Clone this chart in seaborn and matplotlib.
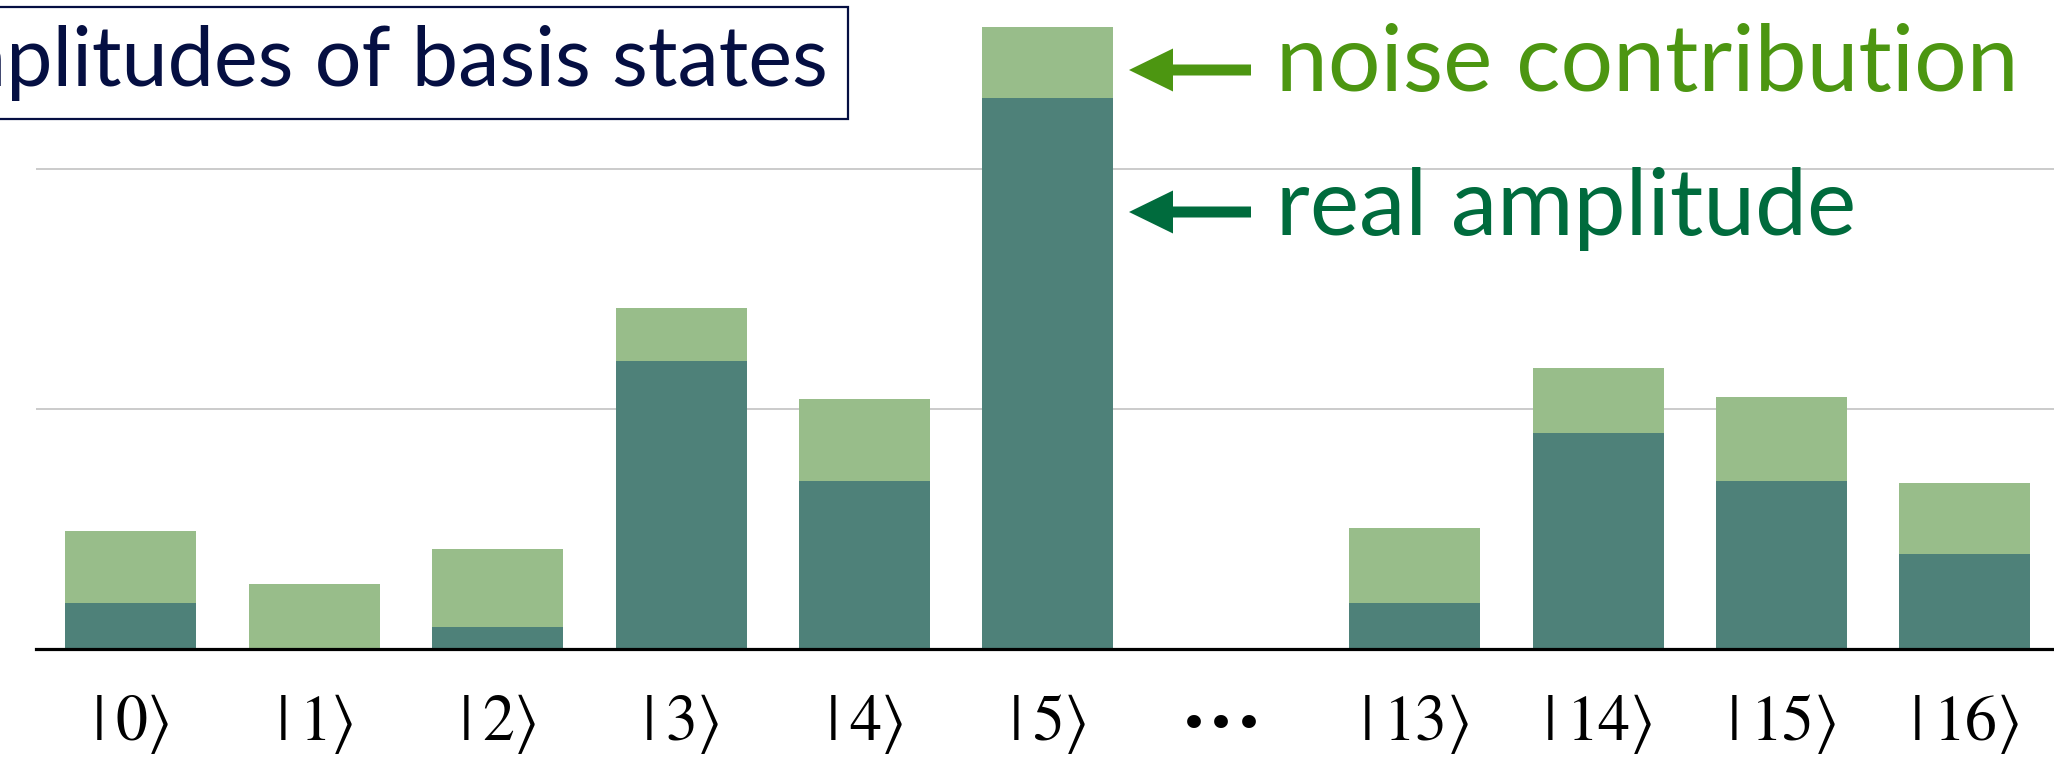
import numpy as np
import pandas as pd
import seaborn as sns
import matplotlib
matplotlib.use("Agg")
import matplotlib.pyplot as plt
from matplotlib.patches import Rectangle, FancyArrow
from matplotlib.transforms import IdentityTransform
from matplotlib.textpath import TextPath
from matplotlib.font_manager import FontProperties

# ---------------- data ----------------
ELLIPSIS = "•••"
states = [r"$|\:0\rangle$", r"$|\:1\rangle$", r"$|\:2\rangle$", r"$|\:3\rangle$",
          r"$|\:4\rangle$", r"$|\:5\rangle$", ELLIPSIS, r"$|\:13\rangle$",
          r"$|\:14\rangle$", r"$|\:15\rangle$", r"$|\:16\rangle$"]
bar_states = [s for s in states if s != ELLIPSIS]
real_amp = [0.19, 0.00, 0.093, 1.20, 0.70, 2.296, 0.19, 0.90, 0.70, 0.395]
noise_amp = [0.30, 0.27, 0.323, 0.22, 0.34, 0.296, 0.314, 0.27, 0.35, 0.295]

title_text = "Amplitudes of basis states"
noise_label = "noise contribution"
real_label = "real amplitude"

DARK = "#4e8179"
LIGHT = "#98bd8a"
NAVY = "#050f42"
NOISE_C = "#4c9611"
REAL_C = "#006b3d"

df = pd.DataFrame({"state": bar_states, "real": real_amp, "noise": noise_amp})
df["total"] = df["real"] + df["noise"]

# ---------------- figure ----------------
sns.set_theme(style="white")
plt.rcParams["mathtext.fontset"] = "stix"
plt.rcParams["font.family"] = ["DejaVu Sans"]

W, H, DPI = 2054, 762, 100
fig = plt.figure(figsize=(W / DPI, H / DPI), dpi=DPI)
fig.patch.set_facecolor("white")

unit_px = 240.0
base_px = 649.0
ax = fig.add_axes([35.6 / W, (H - base_px) / H, 2021 / W, base_px / H])

sns.barplot(data=df, x="state", y="total", order=states, color=LIGHT,
            saturation=1, width=0.714, errorbar=None, linewidth=0, ax=ax)
sns.barplot(data=df, x="state", y="real", order=states, color=DARK,
            saturation=1, width=0.714, errorbar=None, linewidth=0, ax=ax)

ax.set_xlim(-0.52, 10.5)
ax.set_ylim(0, base_px / unit_px)
ax.set_yticks([1, 2])
ax.set_yticklabels([])
ax.tick_params(axis="y", length=0)
ax.grid(axis="y", color="#bdbdbd", lw=1.1)
ax.grid(axis="x", visible=False)
ax.set_axisbelow(True)
for s in ["left", "right", "top"]:
    ax.spines[s].set_visible(False)
ax.spines["bottom"].set_color("black")
ax.spines["bottom"].set_linewidth(2.3)
ax.set_xlabel("")
ax.set_ylabel("")
ax.set_facecolor("white")

ax.set_xticks(range(len(states)))
ax.set_xticklabels([s if s != ELLIPSIS else "" for s in states])
ax.tick_params(axis="x", length=0, pad=31, labelsize=46, labelcolor="black")
ax.text(states.index(ELLIPSIS) - 0.05, -77 / base_px, ELLIPSIS,
        transform=ax.get_xaxis_transform(), ha="center", va="center",
        fontsize=34, family="DejaVu Sans", color="black", clip_on=False)

# ---------------- text sizing helpers ----------------
FAMILY = "Lato"


def fit_size(s, target_w, family=FAMILY):
    fp = FontProperties(family=family)
    w = TextPath((0, 0), s, size=100, prop=fp).get_extents().width
    return target_w * 100 / w * 72 / DPI


# title box (left part clipped by the figure edge)
fs_title = fit_size("plitudes of basis states", 813)
fig.text(828 / W, 1 - 86 / H, title_text, ha="right", va="baseline",
         fontsize=fs_title, family=FAMILY, color=NAVY)
fig.add_artist(Rectangle((-20, H - 119), 848 + 20, 112, fill=False,
                         edgecolor=NAVY, lw=1.6, transform=IdentityTransform()))

# annotations
fs_ann = 0.5 * (fit_size(noise_label, 726) + fit_size(real_label, 573))
fig.text(1276 / W, 1 - 91 / H, noise_label, ha="left", va="baseline",
         fontsize=fs_ann, family=FAMILY, color=NOISE_C)
fig.text(1276 / W, 1 - 235 / H, real_label, ha="left", va="baseline",
         fontsize=fs_ann, family=FAMILY, color=REAL_C)

for ypx, col in [(70, NOISE_C), (212, REAL_C)]:
    fig.add_artist(FancyArrow(1251, H - ypx, -122, 0, width=11, head_width=43,
                              head_length=44, length_includes_head=True,
                              color=col, lw=0, transform=IdentityTransform()))

fig.savefig("out.png", dpi=DPI)
